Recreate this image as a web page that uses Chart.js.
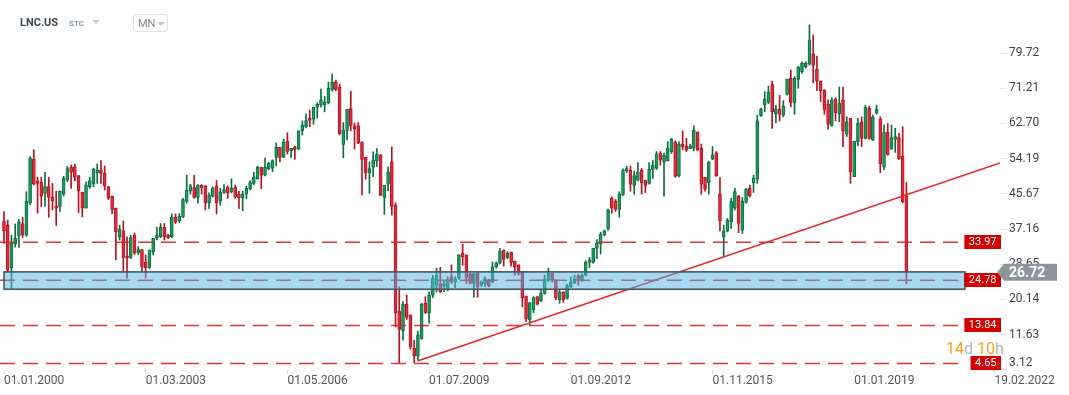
<!DOCTYPE html>
<html><head><meta charset="utf-8">
<script src="https://cdn.jsdelivr.net/npm/chart.js@4.4.1/dist/chart.umd.min.js"></script>
<style>
html,body{margin:0;padding:0;background:#fff;}
#wrap{position:relative;width:1069px;height:395px;overflow:hidden;font-family:Roboto,'Open Sans',Arial,sans-serif;}
canvas{position:absolute;left:0;top:0;}
#sym{position:absolute;left:20px;top:16px;font-weight:bold;font-size:11px;color:#3c4650;}
#stc{position:absolute;left:69px;top:19px;font-weight:bold;font-size:8px;color:#8296a8;}
.tri{position:absolute;width:0;height:0;border-left:4px solid transparent;border-right:4px solid transparent;border-top:4px solid #cacaca;}
#mn{position:absolute;left:133px;top:14px;width:33px;height:16px;border:1px solid #e3e3e3;border-radius:3px;}
#mn span{position:absolute;left:4px;top:2px;font-size:11px;color:#858585;}
#cd{position:absolute;left:946px;top:339px;font-size:16px;white-space:nowrap;}
#cd .o{color:#f7a010;} #cd .g{color:#b5b5b5;}
</style></head><body>
<div id="wrap">
<canvas id="c" width="1069" height="395"></canvas>
<div id="sym">LNC.US</div>
<div id="stc">STC</div>
<div class="tri" style="left:92px;top:20px;"></div>
<div id="mn"><span>MN</span><div class="tri" style="left:23px;top:7px;"></div></div>
<div id="cd"><span class="o">14</span><span class="g">d</span> <span class="o">10</span><span class="g">h</span></div>
</div>
<script>
// ---- data (monthly candles, index 0 = Jan 2000) ----
const opens = [39.1,38.1,27.7,33.5,35.5,38.5,35.7,43.5,54.0,48.8,48.5,45.8,
47.4,44.8,42.7,42.6,45.6,49.0,52.1,52.2,50.1,46.1,42.2,47.4,
48.0,50.8,51.4,50.6,47.4,45.1,42.2,35.3,36.7,30.6,30.3,35.7,
31.4,32.2,29.1,27.9,31.7,35.1,35.3,37.6,35.7,35.3,40.0,39.1,
40.1,43.9,46.4,47.2,44.8,47.7,47.5,43.5,45.1,47.5,43.9,46.0,
47.3,46.2,47.3,45.6,44.75,45.6,46.9,48.2,49.3,52.1,50.2,51.7,
51.9,54.5,56.9,54.5,58.4,56.1,57.0,56.6,60.9,61.9,64.0,63.7,
66.6,67.1,67.2,67.7,70.9,72.7,71.4,57.6,61.0,66.3,62.1,62.1,
58.1,54.5,50.8,52.1,53.7,55.0,44.8,48.0,53.3,43.0,17.3,12.6,
19.0,16.4,8.3,6.5,10.65,19.2,16.9,21.2,23.5,23.9,23.4,22.8,
25.6,24.4,25.25,31.3,30.9,26.3,24.0,26.5,23.6,24.0,24.8,24.4,
28.05,28.9,32.1,30.3,31.6,29.4,28.5,26.85,20.97,15.2,17.6,20.8,
19.85,21.6,24.7,26.45,24.8,20.0,22.0,20.4,23.2,24.2,25.8,24.8,
26.0,29.1,29.1,32.5,33.6,35.7,37.2,44.6,43.9,41.9,45.4,51.2,
51.4,47.7,49.0,51.4,48.85,48.2,51.6,51.8,55.5,53.3,53.7,55.85,
58.2,50.0,57.7,57.2,56.6,56.8,60.55,56.7,49.65,48.4,54.05,55.6,
45.6,35.3,36.7,38.9,42.2,45.1,36.9,43.6,47.0,48.4,49.2,64.6,
67.1,67.8,72.1,65.0,66.1,64.7,69.7,73.6,67.8,73.35,75.2,76.4,
77.0,79.5,75.8,72.95,70.8,67.4,62.2,68.5,64.97,68.4,60.1,63.9,
49.8,58.3,63.1,59.1,66.35,58.7,65.3,63.7,52.1,60.55,56.6,58.85,
59.3,54.8,45.2];
const highs = [41.4,39.3,35.7,38.4,39.5,40.0,46.2,54.7,56.3,49.7,49.7,50.9,
49.7,48.2,46.3,46.4,49.9,52.3,52.6,52.8,50.1,46.1,48.6,49.7,
51.9,52.9,53.7,52.4,47.4,45.1,42.2,38.1,39.1,35.3,35.7,36.2,
32.9,32.2,30.9,32.1,34.9,37.6,38.5,38.5,35.9,40.8,40.8,40.9,
44.6,50.2,48.0,50.2,47.9,47.9,47.7,45.9,47.3,48.9,47.0,47.9,
47.6,49.3,47.8,46.3,46.3,47.5,48.9,50.9,52.4,52.1,54.3,53.3,
53.9,58.0,56.9,58.9,60.45,56.7,57.2,60.9,63.3,65.0,65.9,66.6,
67.7,71.0,69.2,72.7,74.6,73.2,72.2,62.9,66.1,70.5,62.8,62.9,
58.3,54.5,53.4,55.8,56.6,55.2,47.7,52.2,57.0,43.5,23.2,19.6,
21.2,16.4,10.3,12.5,19.2,20.8,22.0,26.0,27.7,27.9,24.5,25.6,
28.5,25.6,31.0,33.5,30.9,26.5,26.5,26.5,24.6,25.6,25.0,29.2,
29.2,32.5,32.1,31.7,31.6,29.4,28.5,26.85,20.97,19.35,20.8,20.8,
22.5,26.0,27.7,26.45,24.8,22.4,22.0,23.8,25.6,26.0,26.2,26.3,
29.5,30.3,32.5,34.6,36.4,36.9,42.0,44.9,44.3,46.2,51.7,52.4,
52.4,51.2,53.2,51.8,49.0,53.2,53.7,55.9,55.9,55.5,58.3,59.1,
58.5,58.3,60.9,59.1,57.7,62.1,60.7,57.7,49.65,53.5,57.1,55.9,
49.6,38.1,39.7,44.6,47.0,45.3,44.8,47.0,47.8,50.2,64.7,66.4,
70.4,71.7,72.95,67.1,69.5,68.2,73.4,75.6,74.0,76.5,77.6,77.6,
86.5,84.1,79.0,72.95,70.8,68.4,68.9,68.9,71.5,71.5,64.3,63.9,
58.4,63.9,64.3,67.1,66.9,64.7,67.1,64.3,62.3,62.7,62.3,61.5,
60.3,61.9,48.4];
const lows = [33.7,27.0,22.7,32.8,32.7,35.1,35.4,43.0,47.8,41.0,42.6,42.6,
40.0,41.8,38.0,41.4,45.2,48.6,47.0,48.8,41.1,40.1,42.2,47.0,
47.4,48.2,48.2,46.6,44.3,40.9,29.7,34.5,27.1,25.3,30.0,31.0,
31.0,26.9,25.3,27.6,30.9,34.5,35.1,34.5,34.9,35.1,38.5,38.7,
39.9,43.4,45.6,44.6,43.4,45.6,41.8,42.1,44.9,40.8,42.9,45.7,
44.6,45.9,44.6,42.1,41.6,44.5,46.6,47.9,49.2,46.9,50.0,51.5,
51.0,52.4,53.4,54.5,55.3,54.5,54.0,56.3,59.9,61.6,61.9,62.5,
64.0,66.6,65.5,67.4,70.5,70.6,59.9,54.4,58.7,60.9,56.5,57.8,
45.4,49.2,45.8,49.8,52.3,45.3,40.7,46.4,40.5,13.5,4.8,10.3,
15.3,8.1,4.84,5.5,10.5,16.8,14.4,20.6,21.9,21.8,22.0,22.2,
24.0,23.0,25.0,28.4,24.0,23.9,20.7,20.7,23.3,23.2,23.2,24.2,
27.7,28.7,28.2,30.0,28.2,26.0,26.0,18.4,14.75,13.96,16.9,18.8,
19.6,21.4,24.5,24.4,20.0,19.2,19.4,20.2,23.0,24.0,23.6,24.5,
25.8,27.8,28.9,30.0,31.1,35.5,36.8,41.0,41.4,40.0,45.2,50.8,
46.3,45.6,48.8,45.6,46.0,48.0,49.4,51.6,52.6,45.1,53.6,55.4,
49.7,49.7,56.3,55.9,56.6,56.1,56.1,45.6,46.3,45.6,53.9,49.9,
36.7,30.5,36.5,37.3,41.8,36.3,36.1,43.4,44.9,46.0,48.2,64.4,
65.5,67.5,61.5,62.8,63.3,64.3,69.5,66.7,64.9,71.2,74.8,76.1,
76.8,72.5,70.6,68.0,64.9,61.3,62.0,63.3,63.1,57.1,59.5,48.2,
49.8,57.3,57.1,58.9,58.9,58.5,64.9,50.8,51.5,55.0,56.4,55.7,
54.0,43.5,23.9];
const closes = [36.7,27.2,33.7,34.9,38.9,35.7,43.9,54.3,48.0,48.2,45.1,47.4,
44.8,43.9,42.2,46.3,49.4,51.8,50.9,49.7,46.4,42.2,47.8,48.8,
51.6,51.4,50.6,47.6,44.6,41.9,36.5,37.1,30.3,30.1,35.1,31.4,
32.2,28.0,27.8,32.1,34.9,35.7,37.6,35.3,35.1,40.0,38.9,40.3,
44.3,46.6,47.6,44.8,47.7,47.1,43.5,45.4,47.1,43.5,46.1,46.7,
45.95,47.0,45.0,44.75,45.6,47.0,48.4,49.65,52.1,50.2,52.1,53.1,
53.7,56.9,54.5,58.2,55.9,56.7,56.4,60.9,62.3,63.4,63.4,66.6,
67.3,68.4,67.9,71.2,72.7,70.9,60.2,61.1,66.1,62.1,61.4,58.0,
54.0,50.8,51.8,53.9,55.2,45.3,47.7,50.9,42.6,16.9,12.9,19.0,
15.8,8.6,6.5,11.5,19.0,16.9,21.2,25.25,26.0,22.0,24.0,25.0,
24.4,25.1,30.9,30.5,25.5,24.0,26.3,23.2,24.4,25.2,23.4,28.05,
28.9,31.85,29.8,31.3,29.1,28.05,26.45,20.56,15.5,19.35,20.56,19.0,
21.6,25.0,26.45,24.8,20.56,22.0,20.0,23.4,24.4,25.0,24.8,26.0,
29.1,29.7,32.5,33.7,35.9,36.7,41.7,42.2,41.9,45.6,51.4,51.8,
48.0,50.1,50.9,48.4,47.7,51.6,52.65,55.3,53.85,55.0,56.7,58.85,
49.9,57.7,57.1,56.2,57.2,61.1,56.3,48.0,46.8,53.3,55.1,50.0,
39.2,36.7,39.35,43.8,46.2,38.5,43.9,46.8,45.2,49.4,63.3,66.1,
68.5,70.3,65.5,66.1,64.9,66.9,73.4,67.8,73.6,76.3,77.2,77.2,
82.9,76.7,73.0,70.6,66.1,62.5,68.4,65.3,67.6,60.9,63.1,51.0,
58.4,62.7,59.1,66.6,59.1,64.2,66.1,52.9,60.5,55.2,59.3,59.5,
54.2,43.8,26.72];

const levels = [33.97, 24.78, 13.84, 4.65];
const zoneBand = [22.6, 26.8];              // price range of the support zone
const trendLine = [{x:110.9, y:5.25}, {x:267.1, y:53.13}];
const yTickLabels = ['3.12','11.63','20.14','28.65','37.16','45.67','54.19','62.70','71.21','79.72'];
const xTickLabels = ['01.01.2000','01.03.2003','01.05.2006','01.07.2009','01.09.2012','01.11.2015','01.01.2019','19.02.2022'];
const lastPrice = 26.72;

// ---- derived ----
const toMonthIndex = s => { const [d,m,y] = s.split('.').map(Number); return (y-2000)*12 + (m-1) + (d-1)/30; };
const xTickValues = xTickLabels.map(toMonthIndex);
const yTickValues = yTickLabels.map(Number);

const X_MIN = -1.0727, X_MAX = 267.1, Y_MIN = 3.077, Y_MAX = 90.12;
const ZONE_X = [0, 257.7];
const LEVEL_END = [256.4, 256.4, 256.4, 258.0];

const GREEN_FILL = '#1a9f5f', GREEN_LINE = '#0b6d3f';
const RED_FILL = '#ea2a3c', RED_LINE = '#b3141f';
const isUp = i => closes[i] >= opens[i];

const bodyData = opens.map((o,i) => ({x:i, y:[o, closes[i]]}));
const wickData = lows.map((l,i) => ({x:i, y:[l, highs[i]]}));

const overlay = {
  id:'overlay',
  afterDatasetsDraw(chart){
    const {ctx, scales:{x,y}} = chart;
    const x0 = x.getPixelForValue(ZONE_X[0]), x1 = x.getPixelForValue(ZONE_X[1]);
    const yt = y.getPixelForValue(zoneBand[1]), yb = y.getPixelForValue(zoneBand[0]);
    ctx.save();
    ctx.fillStyle = 'rgba(80,180,230,0.5)';
    ctx.fillRect(x0, yt, x1-x0, yb-yt);
    ctx.strokeStyle = '#405866'; ctx.lineWidth = 1.6;
    ctx.strokeRect(x0, yt, x1-x0, yb-yt);
    ctx.restore();
  },
  afterDraw(chart){
    const {ctx, chartArea, scales:{y}} = chart;
    ctx.save();
    ctx.font = '11px Roboto';
    ctx.textBaseline = 'middle'; ctx.textAlign = 'center';
    levels.forEach(v => {
      const cy = y.getPixelForValue(v);
      const txt = v.toFixed(2);
      const w = ctx.measureText(txt).width + 9;
      const r = chartArea.right + 1;
      ctx.fillStyle = '#d40000';
      ctx.fillRect(r - w, Math.round(cy - 7), w, 14);
      ctx.fillStyle = '#fff';
      ctx.fillText(txt, r - w/2, Math.round(cy) + 0.5);
    });
    // last price tag
    const cy = y.getPixelForValue(lastPrice);
    const tip = chartArea.right - 3, l = chartArea.right + 4, rr = 1057, h = 8.5;
    ctx.fillStyle = '#8b969b';
    ctx.beginPath();
    ctx.moveTo(tip, cy); ctx.lineTo(l, cy - h); ctx.lineTo(rr, cy - h);
    ctx.lineTo(rr, cy + h); ctx.lineTo(l, cy + h); ctx.closePath(); ctx.fill();
    ctx.fillStyle = '#fff'; ctx.font = 'bold 14px Roboto'; ctx.textAlign = 'left';
    ctx.fillText(lastPrice.toFixed(2), chartArea.right + 9, cy + 1);
    ctx.restore();
  }
};

new Chart(document.getElementById('c'), {
  type:'bar',
  data:{ datasets:[
    {type:'line', data:trendLine, borderColor:'#e3262b', borderWidth:1.5, pointRadius:0, order:0},
    ...levels.map((v,k) => ({type:'line', data:[{x:X_MIN, y:v},{x:LEVEL_END[k], y:v}],
        borderColor:'rgba(218,32,32,0.9)', borderWidth:1.5, borderDash:[15,8], pointRadius:0, order:1})),
    {data:bodyData, grouped:false, barThickness:3, order:2, borderWidth:1, borderSkipped:false, minBarLength:1,
      backgroundColor:c => isUp(c.dataIndex) ? GREEN_FILL : RED_FILL,
      borderColor:c => isUp(c.dataIndex) ? GREEN_LINE : RED_LINE},
    {data:wickData, grouped:false, barThickness:1, order:3, borderWidth:0,
      backgroundColor:c => isUp(c.dataIndex) ? GREEN_LINE : RED_LINE}
  ]},
  options:{
    responsive:false, animation:false, devicePixelRatio:1,
    layout:{padding:{top:10, left:0, right:0, bottom:0}},
    plugins:{legend:{display:false}, tooltip:{enabled:false}},
    scales:{
      x:{type:'linear', min:X_MIN, max:X_MAX, offset:false,
        grid:{drawOnChartArea:false, drawTicks:true, tickLength:4, color:'#d9d9d9', offset:false},
        border:{display:false},
        afterBuildTicks:s => { s.ticks = xTickValues.map(v => ({value:v})); },
        ticks:{autoSkip:false, maxRotation:0, minRotation:0, align:'start', padding:0, color:'#555',
          font:{family:'Roboto', size:12}, callback:(v,i) => xTickLabels[i]},
        afterFit:s => { s.height = 25; }},
      y:{position:'right', min:Y_MIN, max:Y_MAX, stacked:false,
        grid:{drawOnChartArea:false, drawTicks:true, tickLength:7, color:'#e3e3e3'},
        border:{display:false},
        afterBuildTicks:s => { s.ticks = yTickValues.map(v => ({value:v})); },
        ticks:{padding:2, color:'#3d4248', font:{family:'Roboto', size:12},
          callback:(v,i) => i === 0 ? [yTickLabels[i], ''] : yTickLabels[i]},
        afterFit:s => { s.width = 69; }}
    }
  },
  plugins:[overlay]
});
</script>
</body></html>
